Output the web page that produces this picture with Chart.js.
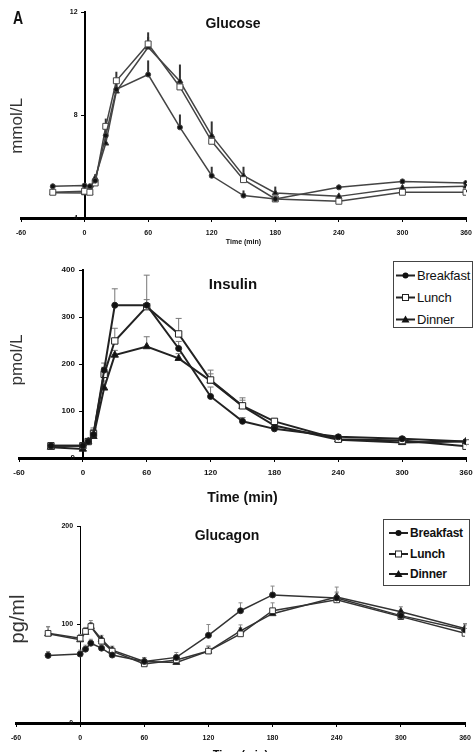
<!DOCTYPE html>
<html>
<head>
<meta charset="utf-8">
<script src="https://cdn.jsdelivr.net/npm/chart.js@4.4.0/dist/chart.umd.min.js"></script>
<style>
  html, body { margin: 0; padding: 0; background: #fff; width: 474px; height: 752px; overflow: hidden;
    font-family: "Liberation Sans", Arial, sans-serif; }
  canvas { position: absolute; left: 0; }
  .txt { position: absolute; transform: translate(-50%, -50%); white-space: nowrap; color: #111; }
  .ytitle { position: absolute; transform: translate(-50%, -50%) rotate(-90deg); white-space: nowrap; color: #333; }
  .legend { position: absolute; border: 1px solid #444; background: #fff; }
  .legend .row { position: absolute; display: flex; align-items: center; transform: translateY(-50%); white-space: nowrap; }
  .legend svg { display: block; }
</style>
</head>
<body>
<canvas id="glucoseChart" width="474" height="250" style="top:0"></canvas>
<canvas id="insulinChart" width="474" height="260" style="top:250px"></canvas>
<canvas id="glucagonChart" width="474" height="260" style="top:510px"></canvas>

<div class="txt" style="left:18px;top:18px;font:bold 18px 'Liberation Sans',Arial;transform:translate(-50%,-50%) scaleX(0.78)">A</div>
<div class="txt" style="left:233px;top:23px;font-weight:bold;font-size:14px">Glucose</div>
<div class="txt" style="left:233px;top:283px;font-weight:bold;font-size:15px">Insulin</div>
<div class="txt" style="left:227px;top:535px;font-weight:bold;font-size:14px">Glucagon</div>
<div class="ytitle" style="left:17px;top:126px;font-size:17px">mmol/L</div>
<div class="ytitle" style="left:17px;top:360px;font-size:17px">pmol/L</div>
<div class="ytitle" style="left:17px;top:619px;font-size:20px">pg/ml</div>

<div class="legend" id="insulinLegend" style="left:393px;top:261px;width:78px;height:65px"></div>
<div class="legend" id="glucagonLegend" style="left:383px;top:519px;width:85px;height:65px"></div>

<script>
// sampling times (min)
const times = [-30, 0, 5, 10, 20, 30, 60, 90, 120, 150, 180, 240, 300, 360];
const seriesNames = ['Breakfast', 'Lunch', 'Dinner'];

// glucose, mmol/L
const glucoseBreakfast = [5.23, 5.26, 5.23, 5.45, 7.2, 9.0, 9.57, 7.52, 5.64, 4.87, 4.74, 5.19, 5.42, 5.36];
const glucoseLunch     = [5.0, 5.04, 5.0, 5.36, 7.56, 9.33, 10.76, 9.09, 6.98, 5.49, 4.74, 4.65, 5.0, 5.0];
const glucoseDinner    = [4.98, 4.97, 4.98, 5.55, 6.9, 8.92, 10.63, 9.31, 7.2, 5.64, 4.97, 4.84, 5.17, 5.23];
const glucoseErrB = [0.1, 0.1, 0.1, 0.15, 0.3, 0.3, 0.55, 0.5, 0.35, 0.2, 0.1, 0.1, 0.1, 0.1];
const glucoseErrL = [0.1, 0.1, 0.1, 0.15, 0.3, 0.35, 0.45, 0.3, 0.3, 0.2, 0.1, 0.1, 0.1, 0.1];
const glucoseErrD = [0.1, 0.1, 0.1, 0.15, 0.3, 0.3, 0.4, 0.65, 0.55, 0.35, 0.25, 0.1, 0.1, 0.1];

// insulin, pmol/L
const insulinBreakfast = [26, 26, 35, 50, 187, 325, 325, 233, 131, 78, 62, 45, 41, 35];
const insulinLunch     = [26, 26, 35, 52, 178, 249, 322, 264, 166, 111, 78, 40, 37, 25];
const insulinDinner    = [23, 19, 35, 46, 149, 219, 237, 212, 164, 110, 69, 39, 33, 35];
const insulinErrB = [4, 4, 5, 10, 15, 35, 12, 15, 20, 8, 6, 4, 4, 4];
const insulinErrL = [4, 4, 5, 12, 15, 27, 67, 33, 21, 12, 6, 4, 4, 4];
const insulinErrD = [4, 4, 5, 15, 15, 10, 21, 10, 15, 18, 6, 4, 4, 4];

// glucagon, pg/ml
const glucagonBreakfast = [68.6, 70, 75, 81, 76, 69, 62.5, 66.6, 89, 114, 130, 127, 109, 94.6];
const glucagonLunch     = [91, 86, 93, 98, 83, 73, 60, 64, 73, 90.5, 114, 125, 108, 91];
const glucagonDinner    = [90.5, 84.5, 92, 98, 85, 74, 62.5, 61.5, 73, 93.6, 111, 128, 113, 96];
const glucagonErrB = [4, 4, 4, 4, 4, 4, 4, 5, 11, 8, 9, 5, 5, 5];
const glucagonErrL = [7, 4, 4, 4, 4, 4, 4, 5, 5, 6, 8, 8, 5, 5];
const glucagonErrD = [7, 5, 5, 6, 4, 4, 4, 4, 5, 6, 5, 10, 5, 5];

const markerStyles = ['circle', 'rect', 'triangle'];
const markerFills = ['#111', '#fff', '#111'];
const FONT = '"Liberation Sans", Arial, sans-serif';

// upward error bars, drawn from the library's scales
const errorBarPlugin = {
  id: 'errorBars',
  beforeDatasetsDraw(chart, args, opts) {
    const { ctx, scales: { x, y } } = chart;
    ctx.save();
    ctx.strokeStyle = opts.color;
    ctx.lineWidth = opts.width;
    chart.data.datasets.forEach((ds, i) => {
      const errs = opts.errors[i];
      ds.data.forEach((p, j) => {
        const px = x.getPixelForValue(p.x);
        const top = y.getPixelForValue(p.y + errs[j]);
        ctx.beginPath();
        ctx.moveTo(px, y.getPixelForValue(p.y));
        ctx.lineTo(px, top);
        if (opts.cap) {
          ctx.moveTo(px - opts.cap, top);
          ctx.lineTo(px + opts.cap, top);
        }
        ctx.stroke();
      });
    });
    ctx.restore();
  }
};

function makeChart(id, cfg) {
  return new Chart(document.getElementById(id), {
    type: 'line',
    data: {
      datasets: seriesNames.map((name, i) => ({
        label: name,
        data: times.map((t, j) => ({ x: t, y: cfg.values[i][j] })),
        borderColor: cfg.lineColor,
        borderWidth: cfg.lineWidth,
        pointStyle: markerStyles[i],
        pointRadius: cfg.radius[i],
        pointBackgroundColor: markerFills[i],
        pointBorderColor: cfg.lineColor,
        pointBorderWidth: 1,
        tension: 0,
        fill: false
      }))
    },
    options: {
      responsive: false,
      animation: false,
      layout: { padding: { left: cfg.padLeft, right: cfg.padRight, top: cfg.padTop, bottom: 0 } },
      scales: {
        x: {
          type: 'linear',
          min: -60,
          max: 360,
          // fixed axis height; edge labels must not widen the margins
          afterFit: s => { s.height = cfg.xHeight; s.paddingLeft = 0; s.paddingRight = 0; },
          ticks: { stepSize: 60, maxRotation: 0, color: '#111', padding: cfg.xTickPad,
                   font: { family: FONT, size: cfg.xTickSize, weight: 'bold' } },
          grid: { drawOnChartArea: false, tickLength: 4, color: '#000' },
          border: { color: '#000', width: 3 },
          title: { display: true, text: 'Time (min)', color: '#111',
                   font: { family: FONT, size: cfg.xTitleSize, weight: 'bold' },
                   padding: { top: 0, bottom: cfg.xTitlePad } }
        },
        y: {
          type: 'linear',
          position: { x: 0 },
          min: cfg.yMin,
          max: cfg.yMax,
          // labels of a centred axis sit right on the line, an em space pushes them off
          ticks: { stepSize: cfg.yStep, color: '#111', callback: v => v + '\u2003',
                   font: { family: FONT, size: cfg.yTickSize, weight: 'bold' } },
          grid: { drawOnChartArea: false, tickLength: 3, color: '#000' },
          border: { color: '#000', width: cfg.yBorder }
        }
      },
      plugins: {
        legend: { display: false },
        tooltip: { enabled: false },
        errorBars: { errors: cfg.errors, color: cfg.errColor, width: cfg.errWidth, cap: cfg.errCap }
      }
    },
    plugins: [errorBarPlugin]
  });
}

makeChart('glucoseChart', {
  values: [glucoseBreakfast, glucoseLunch, glucoseDinner],
  errors: [glucoseErrB, glucoseErrL, glucoseErrD],
  lineColor: '#444', lineWidth: 1.5, radius: [2.5, 4.2, 3.5],
  padLeft: 21, padRight: 8, padTop: 12, xHeight: 32,
  xTickSize: 7, xTickPad: 7, xTitleSize: 7, xTitlePad: 4,
  yMin: 4, yMax: 12, yStep: 4, yTickSize: 7, yBorder: 2,
  errColor: '#333', errWidth: 2, errCap: 0
});

makeChart('insulinChart', {
  values: [insulinBreakfast, insulinLunch, insulinDinner],
  errors: [insulinErrB, insulinErrL, insulinErrD],
  lineColor: '#222', lineWidth: 2, radius: [3, 4.5, 4.2],
  padLeft: 19, padRight: 8, padTop: 20, xHeight: 52,
  xTickSize: 8, xTickPad: 6, xTitleSize: 14, xTitlePad: 3,
  yMin: 0, yMax: 400, yStep: 100, yTickSize: 8, yBorder: 2,
  errColor: '#777', errWidth: 1, errCap: 3
});

makeChart('glucagonChart', {
  values: [glucagonBreakfast, glucagonLunch, glucagonDinner],
  errors: [glucagonErrB, glucagonErrL, glucagonErrD],
  lineColor: '#333', lineWidth: 1.5, radius: [3, 4, 4],
  padLeft: 16, padRight: 9, padTop: 16, xHeight: 47,
  xTickSize: 7, xTickPad: 7, xTitleSize: 11, xTitlePad: 8,
  yMin: 0, yMax: 200, yStep: 100, yTickSize: 7, yBorder: 1,
  errColor: '#888', errWidth: 1, errCap: 2
});

// legends: line with marker, then the series name
function markerSvg(style, w) {
  const c = w / 2;
  let m = '';
  if (style === 'circle') m = `<circle cx="${c}" cy="6" r="3" fill="#111"/>`;
  if (style === 'rect') m = `<rect x="${c - 3}" y="3" width="6" height="6" fill="#fff" stroke="#222" stroke-width="1"/>`;
  if (style === 'triangle') m = `<polygon points="${c},2 ${c + 4},9 ${c - 4},9" fill="#111"/>`;
  return `<svg width="${w}" height="12"><line x1="0" y1="6" x2="${w}" y2="6" stroke="#222" stroke-width="2"/>${m}</svg>`;
}

function buildLegend(id, rows, lineW, lineX, gap, font) {
  const box = document.getElementById(id);
  seriesNames.forEach((name, i) => {
    const row = document.createElement('div');
    row.className = 'row';
    row.style.left = lineX + 'px';
    row.style.top = rows[i] + 'px';
    row.style.font = font;
    row.style.letterSpacing = '-0.2px';
    row.innerHTML = markerSvg(markerStyles[i], lineW) + `<span style="margin-left:${gap}px;color:#111">${name}</span>`;
    box.appendChild(row);
  });
}

buildLegend('insulinLegend', [13, 35, 57], 19, 2, 2, `13px ${FONT}`);
buildLegend('glucagonLegend', [13, 34, 54], 19, 5, 2, `bold 12px ${FONT}`);
</script>
</body>
</html>
